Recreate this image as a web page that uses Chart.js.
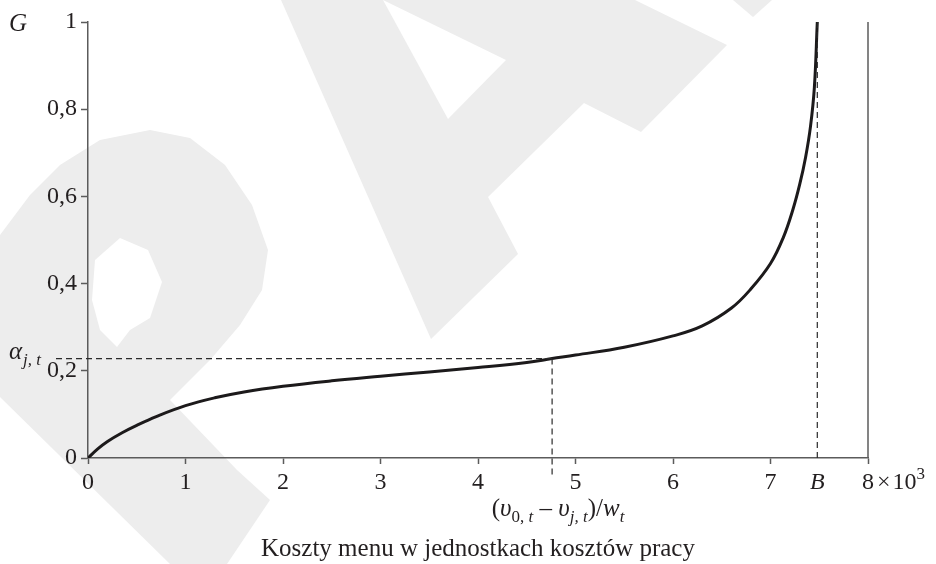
<!DOCTYPE html>
<html>
<head>
<meta charset="utf-8">
<script src="https://cdn.jsdelivr.net/npm/chart.js@4.4.0/dist/chart.umd.min.js"></script>
<style>
html, body { margin: 0; padding: 0; background: #fff; }
#wrap { width: 936px; height: 564px; }
</style>
</head>
<body>
<div id="wrap"><canvas id="drawChart" width="936" height="564"></canvas></div>
<script>
// menu cost in labour-cost units (thousands) and the share G
var costs  = [0, 0.1, 0.2, 0.35, 0.5, 0.7, 1.0, 1.3, 1.6, 2.0, 2.5, 3.0, 3.5, 4.0, 4.5, 4.76, 5.0, 5.5, 6.0, 6.3, 6.6, 6.8, 7.0, 7.13, 7.23, 7.3, 7.36, 7.41, 7.45, 7.48];
var shares = [0, 0.021, 0.038, 0.058, 0.075, 0.095, 0.120, 0.138, 0.1515, 0.1645, 0.177, 0.1875, 0.1975, 0.2075, 0.219, 0.228, 0.236, 0.254, 0.280, 0.303, 0.344, 0.388, 0.446, 0.505, 0.570, 0.628, 0.690, 0.760, 0.850, 1.0];

var xTicks = [0, 1, 2, 3, 4, 5, 6, 7, 7.48, 8];
var yTicks = [0, 0.2, 0.4, 0.6, 0.8, 1];

// marked point (v0,t - vj,t)/wt -> alpha j,t and the bound B
var alphaX = 4.76;
var alphaY = 0.228;
var bValue = 7.48;

var ink = '#231f20';
var axisGray = '#5b5b5b';
var serif = '"Liberation Serif", "Times New Roman", serif';

var points = costs.map(function (c, i) { return { x: c, y: shares[i] }; });

function txt(ctx, s, x, y, size, italic, align) {
	ctx.font = (italic ? 'italic ' : '') + size + 'px ' + serif;
	ctx.textAlign = align || 'left';
	ctx.fillText(s, x, y);
	return ctx.measureText(s).width;
}

function poly(ctx, pts) {
	ctx.beginPath();
	pts.forEach(function (p, i) { i ? ctx.lineTo(p[0], p[1]) : ctx.moveTo(p[0], p[1]); });
	ctx.closePath();
	ctx.fill();
}

// light "PAN" mark behind the plot
var watermark = {
	id: 'watermark',
	beforeDraw: function (chart) {
		var ctx = chart.ctx;
		ctx.save();
		ctx.fillStyle = '#fff';
		ctx.fillRect(0, 0, chart.width, chart.height);
		ctx.fillStyle = '#ededed';
		poly(ctx, [[0,235],[30,195],[60,165],[100,140],[150,130],[190,138],[225,165],[252,205],[268,250],[262,290],[240,325],[210,360],[170,400],[237,470],[270,500],[227,564],[170,564],[0,397]]);
		poly(ctx, [[281,0],[635,0],[727,45],[641,132],[584,103],[488,197],[518,254],[431,339]]);
		poly(ctx, [[733,0],[772,0],[753,17]]);
		ctx.fillStyle = '#fff';
		poly(ctx, [[120,238],[148,250],[162,282],[150,318],[130,330],[117,347],[100,330],[92,300],[95,260]]);
		poly(ctx, [[383,0],[506,60],[448,119]]);
		ctx.restore();
	}
};

// guide lines, frame line and the symbol labels
var extras = {
	id: 'extras',
	afterDatasetsDraw: function (chart) {
		var ctx = chart.ctx;
		var xs = chart.scales.x, ys = chart.scales.y;
		var x8 = xs.getPixelForValue(8), xb = xs.getPixelForValue(bValue);
		var xa = xs.getPixelForValue(alphaX), ya = ys.getPixelForValue(alphaY);
		var y0 = ys.getPixelForValue(0), y1 = ys.getPixelForValue(1);
		ctx.save();

		ctx.strokeStyle = axisGray;
		ctx.lineWidth = 1.5;
		ctx.beginPath();
		ctx.moveTo(x8, y0);
		ctx.lineTo(x8, y1);
		ctx.stroke();

		ctx.strokeStyle = '#2a2a2a';
		ctx.lineWidth = 1.2;
		ctx.setLineDash([6, 4]);
		ctx.beginPath();
		ctx.moveTo(xb, y1);
		ctx.lineTo(xb, y0);
		ctx.moveTo(ys.right - 32, ya);
		ctx.lineTo(xa, ya);
		ctx.moveTo(xa, ya);
		ctx.lineTo(xa, y0 + 19);
		ctx.stroke();
		ctx.setLineDash([]);

		ctx.fillStyle = ink;
		ctx.textBaseline = 'alphabetic';

		// G at the top of the value axis
		txt(ctx, 'G', 9, y1 + 9, 25, true);

		// alpha j,t
		var w = txt(ctx, 'α', 9, ya, 25, true);
		txt(ctx, 'j, t', 9 + w + 1, ya + 6, 17, true);

		// x 10^3 after the last tick
		ctx.font = '24px ' + serif;
		var base = xs.top + 10 + 0.891 * 24;
		var px = x8 + ctx.measureText('8').width / 2 + 3;
		px += txt(ctx, '×', px, base, 24, false) + 2;
		px += txt(ctx, '10', px, base, 24, false);
		txt(ctx, '3', px, base - 10, 17, false);

		// (v0,t - vj,t)/wt under the marked point
		var runs = [
			['(', 25, false, 0], ['υ', 25, true, 0], ['0, ', 17, false, 6], ['t', 17, true, 6],
			[' – ', 25, false, 0], ['υ', 25, true, 0], ['j, t', 17, true, 6],
			[')/', 25, false, 0], ['w', 25, true, 0], ['t', 17, true, 6]
		];
		var total = 0;
		runs.forEach(function (r) {
			ctx.font = (r[2] ? 'italic ' : '') + r[1] + 'px ' + serif;
			total += ctx.measureText(r[0]).width;
		});
		var sx = xa + 6 - total / 2, sy = y0 + 58;
		runs.forEach(function (r) {
			sx += txt(ctx, r[0], sx, sy + r[3], r[1], r[2]);
		});
		ctx.restore();
	}
};

var ctx = document.getElementById('drawChart').getContext('2d');
var drawChart = new Chart(ctx, {
	type: 'line',
	data: {
		datasets: [{
			data: points,
			borderColor: '#1c1a1b',
			borderWidth: 3,
			pointRadius: 0,
			tension: 0.4,
			fill: false
		}]
	},
	options: {
		responsive: false,
		animation: false,
		devicePixelRatio: 1,
		layout: { padding: { top: 22, right: 68, left: 0, bottom: 0 } },
		plugins: { legend: { display: false }, tooltip: { enabled: false } },
		scales: {
			x: {
				type: 'linear',
				min: 0,
				max: 8,
				afterFit: function (scale) { scale.height = 106; },
				afterBuildTicks: function (scale) {
					scale.ticks = xTicks.map(function (v) { return { value: v }; });
				},
				ticks: {
					autoSkip: false,
					maxRotation: 0,
					padding: 4,
					color: ink,
					font: function (c) {
						var b = c.tick && c.tick.value === bValue;
						return { family: serif, size: 24, style: b ? 'italic' : 'normal' };
					},
					callback: function (v) { return v === bValue ? 'B' : String(v); }
				},
				grid: {
					drawOnChartArea: false,
					tickLength: 6,
					tickWidth: 1.5,
					tickColor: function (c) {
						return c.tick && c.tick.value === bValue ? 'rgba(0,0,0,0)' : axisGray;
					}
				},
				border: { color: axisGray, width: 1.5 },
				title: {
					display: true,
					text: 'Koszty menu w jednostkach kosztów pracy',
					color: ink,
					font: { family: serif, size: 25 },
					padding: { top: 0, bottom: 0 }
				}
			},
			y: {
				min: 0,
				max: 1,
				afterFit: function (scale) { scale.width = 88; },
				afterBuildTicks: function (scale) {
					scale.ticks = yTicks.map(function (v) { return { value: v }; });
				},
				ticks: {
					padding: 4,
					color: ink,
					font: { family: serif, size: 24 },
					callback: function (v) {
						return (v === 0 || v === 1) ? String(v) : v.toFixed(1).replace('.', ',');
					}
				},
				grid: { drawOnChartArea: false, tickLength: 7, tickWidth: 1.5, tickColor: axisGray },
				border: { color: axisGray, width: 1.5 }
			}
		}
	},
	plugins: [watermark, extras]
});
</script>
</body>
</html>
